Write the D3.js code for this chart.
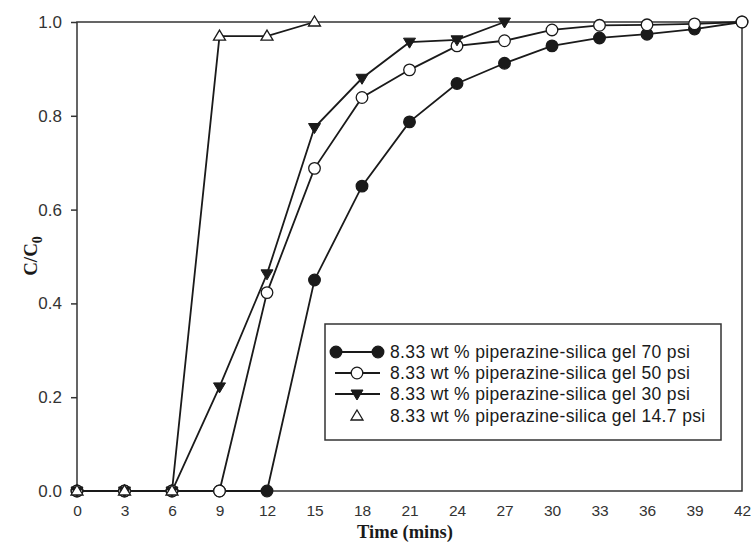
<!DOCTYPE html>
<html><head><meta charset="utf-8">
<script src="https://cdn.jsdelivr.net/npm/d3@7"></script>
<style>body{margin:0;background:#fff}svg{display:block}</style>
</head><body><svg id="c" width="753" height="542"></svg>
<script>
const xTicks = [0,3,6,9,12,15,18,21,24,27,30,33,36,39,42];
const yTicks = [0,0.2,0.4,0.6,0.8,1.0];
const t70 = [0,3,6,9,12,15,18,21,24,27,30,33,36,39,42];
const v70 = [0,0,0,0,0,0.45,0.65,0.787,0.869,0.912,0.949,0.966,0.974,0.985,1.0];
const t50 = [0,3,6,9,12,15,18,21,24,27,30,33,36,39,42];
const v50 = [0,0,0,0,0.423,0.688,0.839,0.898,0.949,0.960,0.983,0.993,0.994,0.996,1.0];
const t30 = [0,3,6,9,12,15,18,21,24,27];
const v30 = [0,0,0,0.222,0.463,0.775,0.88,0.957,0.962,1.0];
const t14 = [0,3,6,9,12,15];
const v14 = [0,0,0,0.97,0.97,1.0];
const legendLabels = ["8.33 wt % piperazine-silica gel 70 psi","8.33 wt % piperazine-silica gel 50 psi","8.33 wt % piperazine-silica gel 30 psi","8.33 wt % piperazine-silica gel 14.7 psi"];

const svg = d3.select("#c");
const x = d3.scaleLinear().domain([0,42]).range([77,742]);
const y = d3.scaleLinear().domain([0,1]).range([491,22]);
const ink = "#1a1a1a";

// frame
svg.append("rect").attr("x",77).attr("y",22).attr("width",665).attr("height",469)
  .attr("fill","none").attr("stroke","#333").attr("stroke-width",1.5);

const yAx = svg.append("g").attr("transform","translate(77,0)")
  .call(d3.axisLeft(y).tickValues(yTicks).tickFormat(d3.format(".1f")).tickSize(6).tickPadding(9));
yAx.select(".domain").remove();
yAx.selectAll("line").attr("stroke","#333").attr("stroke-width",1.5);
yAx.selectAll("text").attr("font-family","Liberation Sans, Arial, sans-serif").attr("font-size",17).attr("fill","#333");

const xAx = svg.append("g").attr("transform","translate(0,491)")
  .call(d3.axisBottom(x).tickValues(xTicks).tickFormat(d3.format("d")).tickSize(0).tickPadding(14));
xAx.select(".domain").remove();
xAx.selectAll("text").attr("font-family","Liberation Sans, Arial, sans-serif").attr("font-size",15.5).attr("fill","#333");

svg.append("text").attr("x",405).attr("y",538).attr("text-anchor","middle")
  .attr("font-family","Liberation Serif, Times New Roman, serif").attr("font-weight","bold").attr("font-size",18.5)
  .attr("fill",ink).text("Time (mins)");
const yl = svg.append("text").attr("transform","translate(37,256) rotate(-90)").attr("text-anchor","middle")
  .attr("font-family","Liberation Serif, Times New Roman, serif").attr("font-weight","bold").attr("font-size",19).attr("fill",ink);
yl.append("tspan").text("C/C");
yl.append("tspan").attr("dy",5).attr("font-size",14).text("0");

const line = d3.line().x(d=>x(d[0])).y(d=>y(d[1]));
const series = [
  {t:t70,v:v70,sym:"circle",fill:ink},
  {t:t50,v:v50,sym:"circle",fill:"#fff"},
  {t:t30,v:v30,sym:"tdown",fill:ink},
  {t:t14,v:v14,sym:"tup",fill:"#fff"}
];
function drawSym(g, sym, fill, cx, cy){
  if(sym==="circle"){
    g.append("circle").attr("cx",cx).attr("cy",cy).attr("r",5.8).attr("fill",fill).attr("stroke",ink).attr("stroke-width",1.3);
  } else if(sym==="tdown"){
    g.append("path").attr("d",`M${cx-6},${cy-4}L${cx+6},${cy-4}L${cx},${cy+6}Z`).attr("fill",fill).attr("stroke",ink).attr("stroke-width",1);
  } else {
    g.append("path").attr("d",`M${cx},${cy-6}L${cx+6},${cy+4}L${cx-6},${cy+4}Z`).attr("fill",fill).attr("stroke",ink).attr("stroke-width",1.3);
  }
}
series.forEach(s=>{
  const pts = s.t.map((t,i)=>[t,s.v[i]]);
  svg.append("path").datum(pts).attr("d",line).attr("fill","none").attr("stroke",ink).attr("stroke-width",1.8);
});
series.forEach(s=>{
  const g = svg.append("g");
  s.t.forEach((t,i)=>drawSym(g,s.sym,s.fill,x(t),y(s.v[i])));
});

// legend
const lg = svg.append("g");
lg.append("rect").attr("x",325).attr("y",324).attr("width",396).attr("height",116)
  .attr("fill","#fff").attr("stroke","#333").attr("stroke-width",1.5);
const rowsY = [352,373,394,416];
series.forEach((s,i)=>{
  const ry = rowsY[i];
  if(i<3){
    lg.append("line").attr("x1",335).attr("x2",380).attr("y1",ry).attr("y2",ry).attr("stroke",ink).attr("stroke-width",1.8);
  }
  if(i===0){ drawSym(lg,s.sym,s.fill,336,ry); drawSym(lg,s.sym,s.fill,378,ry); }
  else drawSym(lg,s.sym,s.fill,357,ry);
  lg.append("text").attr("x",390).attr("y",ry+6).attr("font-family","Liberation Sans, Arial, sans-serif")
    .attr("font-size",17.5).attr("letter-spacing",0.35).attr("fill",ink).text(legendLabels[i]);
});
</script></body></html>
